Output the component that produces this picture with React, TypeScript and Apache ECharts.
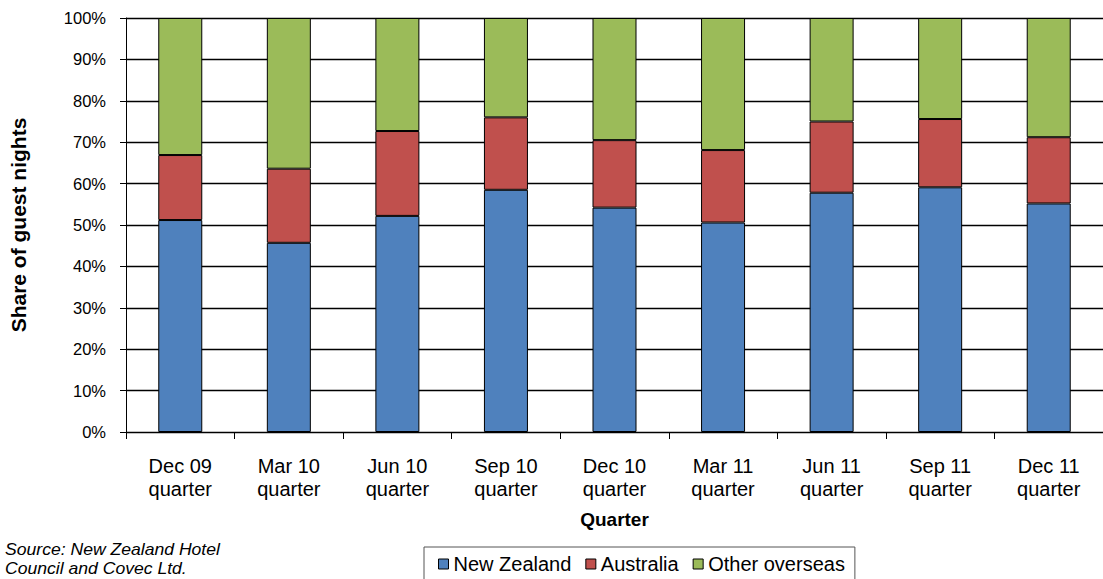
import React, { useEffect, useRef } from "react";
import * as echarts from "echarts";

const categories = [
  "Dec 09\nquarter",
  "Mar 10\nquarter",
  "Jun 10\nquarter",
  "Sep 10\nquarter",
  "Dec 10\nquarter",
  "Mar 11\nquarter",
  "Jun 11\nquarter",
  "Sep 11\nquarter",
  "Dec 11\nquarter",
];
const newZealand = [51.2, 45.7, 52.2, 58.5, 54.2, 50.6, 57.8, 59.1, 55.2];
const australia = [15.7, 17.9, 20.5, 17.5, 16.3, 17.5, 17.2, 16.5, 16.0];
const otherOverseas = [33.1, 36.4, 27.3, 24.0, 29.5, 31.9, 25.0, 24.4, 28.8];
const seriesNames = ["New Zealand", "Australia", "Other overseas"];
const colors = ["#4F81BD", "#C0504D", "#9BBB59"];

const FONT = "'Liberation Sans', Arial, sans-serif";

export default function App() {
  const ref = useRef<HTMLDivElement>(null);
  useEffect(() => {
    document.body.style.margin = "0";
    const chart = echarts.init(ref.current!, null, { renderer: "svg" });
    const data = [newZealand, australia, otherOverseas];
    chart.setOption({
      animation: false,
      backgroundColor: "#ffffff",
      textStyle: { fontFamily: FONT },
      grid: { left: 125, top: 18, height: 414, width: 983, containLabel: false },
      xAxis: {
        type: "category",
        data: categories,
        name: "Quarter",
        nameLocation: "middle",
        nameGap: 78,
        nameTextStyle: { fontFamily: FONT, fontSize: 19, fontWeight: "bold", color: "#000" },
        axisLine: { lineStyle: { color: "#000", width: 1 } },
        axisTick: { show: true, length: 7, lineStyle: { color: "#000" } },
        axisLabel: {
          fontFamily: FONT,
          fontSize: 20,
          color: "#000",
          margin: 22,
          lineHeight: 23,
          interval: 0,
        },
      },
      yAxis: {
        type: "value",
        min: 0,
        max: 100,
        interval: 10,
        name: "Share of guest nights",
        nameLocation: "middle",
        nameGap: 97,
        nameTextStyle: { fontFamily: FONT, fontSize: 21, fontWeight: "bold", color: "#000" },
        axisLine: { show: true, lineStyle: { color: "#000", width: 1 } },
        axisTick: { show: true, length: 6, lineStyle: { color: "#000" } },
        axisLabel: {
          fontFamily: FONT,
          fontSize: 16.5,
          color: "#000",
          margin: 20,
          formatter: (v: number) => `${v}%`,
        },
        splitLine: { show: true, lineStyle: { color: "#000", width: 1.4 } },
      },
      legend: {
        left: 424,
        top: 547,
        padding: [7, 10, 30, 14],
        borderColor: "#555",
        borderWidth: 1,
        itemWidth: 10,
        itemHeight: 10,
        itemGap: 14,
        icon: "rect",
        textStyle: { fontFamily: FONT, fontSize: 20, color: "#000" },
        data: seriesNames.map((n, i) => ({
          name: n,
          itemStyle: { color: colors[i], borderColor: "#000", borderWidth: 1 },
        })),
      },
      graphic: [
        {
          type: "text",
          x: 5,
          y: 540,
          scaleX: 1.1,
          style: {
            text: "Source: New Zealand Hotel\nCouncil and Covec Ltd.",
            fontFamily: FONT,
            fontSize: 16,
            fontStyle: "italic",
            lineHeight: 19,
            fill: "#000",
            verticalAlign: "top",
          },
        },
      ],
      series: seriesNames.map((n, i) => ({
        name: n,
        type: "bar",
        stack: "total",
        barWidth: 44,
        data: data[i],
        itemStyle: { color: colors[i], borderColor: "#000", borderWidth: 1 },
      })),
    });
    return () => chart.dispose();
  }, []);
  return <div ref={ref} style={{ width: 1103, height: 579 }} />;
}
